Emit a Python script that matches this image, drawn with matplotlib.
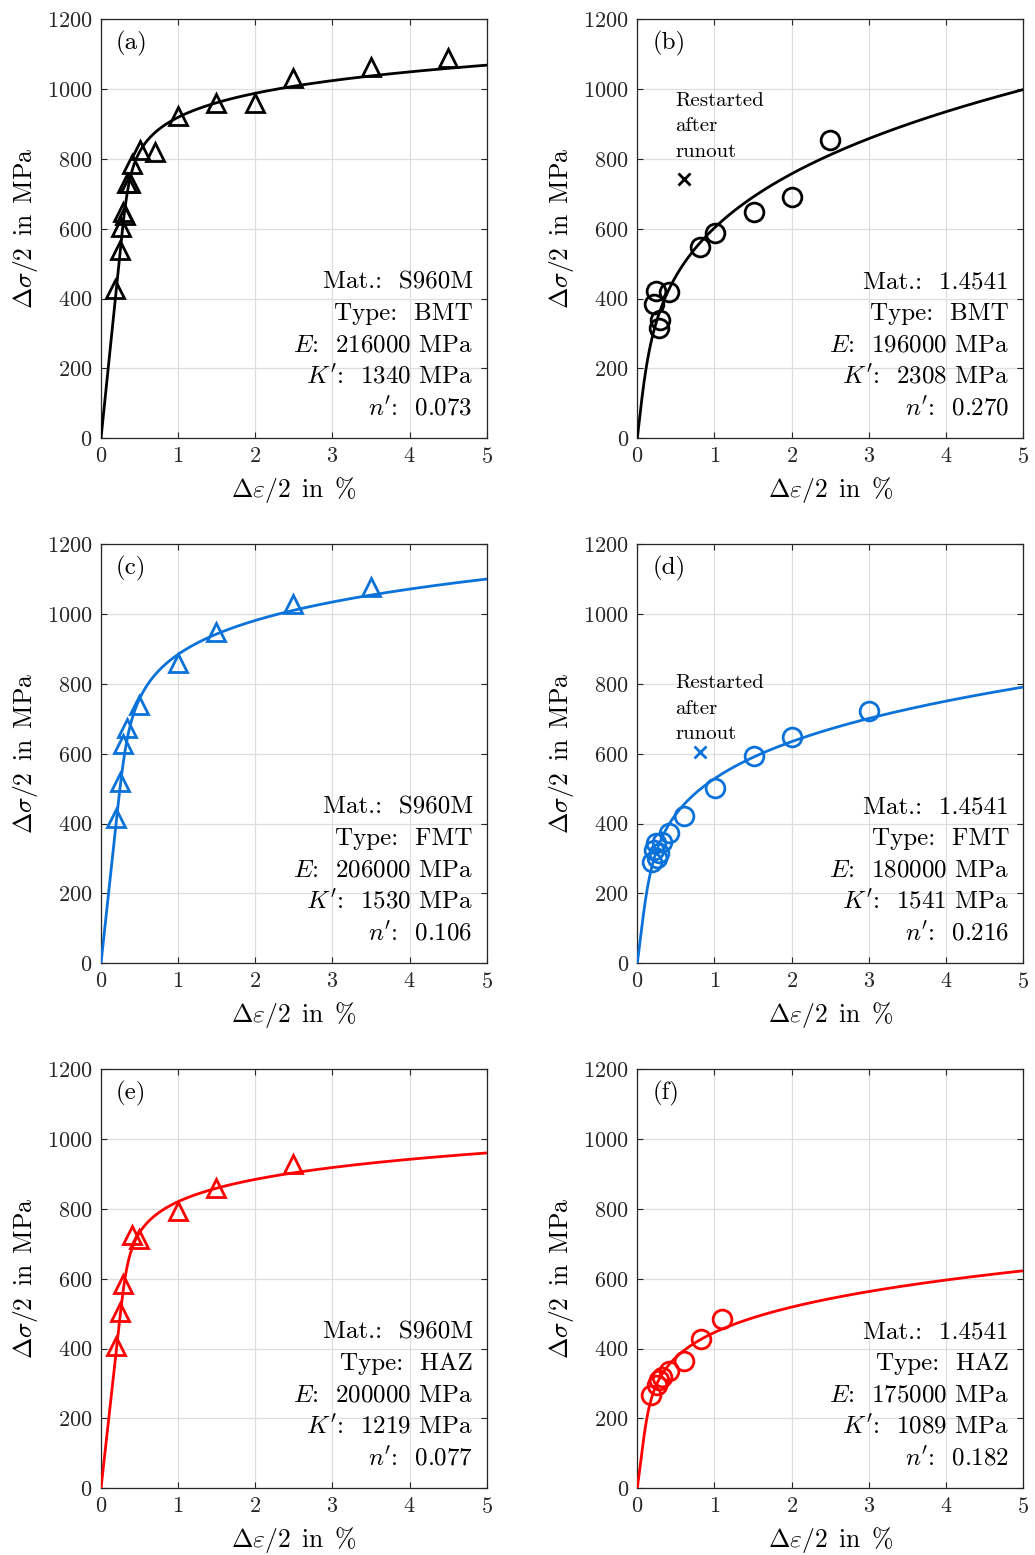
import numpy as np
import matplotlib
matplotlib.use("Agg")
import matplotlib.pyplot as plt

plt.rcParams['font.family'] = 'serif'
plt.rcParams['font.serif'] = ['cmr10']
plt.rcParams['mathtext.fontset'] = 'cm'
plt.rcParams['axes.formatter.use_mathtext'] = True

# ---------------- data ----------------
panel_labels = ['(a)', '(b)', '(c)', '(d)', '(e)', '(f)']
materials = ['S960M', '1.4541', 'S960M', '1.4541', 'S960M', '1.4541']
types = ['BMT', 'BMT', 'FMT', 'FMT', 'HAZ', 'HAZ']
E_mod = [216000, 196000, 206000, 180000, 200000, 175000]
K_prime = [1340, 2308, 1530, 1541, 1219, 1089]
n_prime = [0.073, 0.270, 0.106, 0.216, 0.077, 0.182]
n_prime_txt = ['0.073', '0.270', '0.106', '0.216', '0.077', '0.182']

# (a) S960M BMT
a_eps = [4.50, 3.50, 2.49, 2.00, 1.49, 1.00, 0.70, 0.50, 0.40, 0.37, 0.34, 0.29, 0.31, 0.26, 0.24, 0.18]
a_sig = [1088, 1064, 1031, 961, 961, 923, 821, 825, 785, 730, 732, 649, 639, 606, 538, 429]
# (b) 1.4541 BMT
b_eps = [2.50, 2.01, 1.51, 1.01, 0.81, 0.41, 0.24, 0.22, 0.29, 0.28]
b_sig = [854, 692, 647, 588, 547, 419, 422, 386, 338, 316]
b_runout_eps = [0.60]
b_runout_sig = [742]
# (c) S960M FMT
c_eps = [3.50, 2.49, 1.49, 0.995, 0.49, 0.34, 0.29, 0.24, 0.19]
c_sig = [1078, 1028, 948, 861, 740, 673, 627, 518, 415]
# (d) 1.4541 FMT
d_eps = [3.00, 2.00, 1.51, 1.01, 0.61, 0.41, 0.32, 0.24, 0.22, 0.28, 0.26, 0.19]
d_sig = [723, 647, 594, 501, 422, 373, 348, 345, 324, 315, 301, 291]
d_runout_eps = [0.81]
d_runout_sig = [606]
# (e) S960M HAZ
e_eps = [2.49, 1.49, 0.995, 0.49, 0.40, 0.29, 0.24, 0.19]
e_sig = [929, 860, 793, 715, 725, 584, 506, 407]
# (f) 1.4541 HAZ
f_eps = [1.10, 0.82, 0.61, 0.41, 0.32, 0.28, 0.25, 0.18]
f_sig = [484, 428, 366, 337, 318, 310, 295, 266]

points_eps = [a_eps, b_eps, c_eps, d_eps, e_eps, f_eps]
points_sig = [a_sig, b_sig, c_sig, d_sig, e_sig, f_sig]
runout_eps = [None, b_runout_eps, None, d_runout_eps, None, None]
runout_sig = [None, b_runout_sig, None, d_runout_sig, None, None]

BLUE = '#0A72D8'
RED = '#FF0000'
colors = ['black', 'black', BLUE, BLUE, RED, RED]
markers = ['^', 'o', '^', 'o', '^', 'o']

x_ticks = [0, 1, 2, 3, 4, 5]
y_ticks = [0, 200, 400, 600, 800, 1000, 1200]

# ---------------- figure ----------------
fig = plt.figure(figsize=(10.35, 15.55), dpi=100)

W, H = 1035.0, 1555.0
lefts = [101.0, 637.3]
tops = [19.3, 544.3, 1069.3]
ax_w, ax_h = 385.7, 419.0

TICK_FS = 16
LABEL_FS = 18.5
ANN_FS = 18
RUN_FS = 15

for i in range(6):
    r, c = divmod(i, 2)
    rect = [lefts[c] / W, 1 - (tops[r] + ax_h) / H, ax_w / W, ax_h / H]
    ax = fig.add_axes(rect)
    col = colors[i]

    # Ramberg-Osgood fit curve from the given parameters
    s = np.linspace(0, 1300, 4000)
    eps = 100 * (s / E_mod[i] + (s / K_prime[i]) ** (1.0 / n_prime[i]))
    ax.plot(eps, s, color=col, lw=2.0, zorder=3)

    ms = 13 if markers[i] == '^' else 13.5
    ax.plot(points_eps[i], points_sig[i], linestyle='none', marker=markers[i],
            markersize=ms, markerfacecolor='none', markeredgecolor=col,
            markeredgewidth=2.0, zorder=4)

    if runout_eps[i] is not None:
        ax.plot(runout_eps[i], runout_sig[i], linestyle='none', marker='x',
                markersize=8, markeredgewidth=2.0, color=col, zorder=4)

    ax.set_xlim(0, 5)
    ax.set_ylim(0, 1200)
    ax.set_xticks(x_ticks)
    ax.set_yticks(y_ticks)
    ax.grid(True, color='#dedede', lw=0.9)
    ax.set_axisbelow(True)
    ax.tick_params(direction='in', length=4, width=0.8, top=True, right=True,
                   labelsize=TICK_FS, colors='#262626', pad=6)
    for sp in ax.spines.values():
        sp.set_color('#262626')
        sp.set_linewidth(0.9)

    ax.set_xlabel(r'$\Delta\varepsilon/2\ \,\mathrm{in}\ \,\%$', fontsize=LABEL_FS, labelpad=6)
    ax.set_ylabel(r'$\Delta\sigma/2\ \,\mathrm{in}\ \,\mathrm{MPa}$', fontsize=LABEL_FS, labelpad=5)

    ax.text(0.039, 0.943, panel_labels[i], transform=ax.transAxes,
            fontsize=ANN_FS, ha='left', va='center')

    lines = ['Mat.:  ' + materials[i],
             'Type:  ' + types[i],
             r'$E$:  %d MPa' % E_mod[i],
             r"$K'$:  %d MPa" % K_prime[i],
             r"$n'$:  " + n_prime_txt[i]]
    for j, t in enumerate(lines):
        ax.text(0.964, 0.055 + (4 - j) * 0.0757, t, transform=ax.transAxes,
                fontsize=ANN_FS, ha='right', va='baseline')

    if i == 1:
        base = [0.793, 0.734, 0.672]
    elif i == 3:
        base = [0.656, 0.595, 0.535]
    else:
        base = None
    if base is not None:
        for t, y in zip(['Restarted', 'after', 'runout'], base):
            ax.text(0.099, y, t, transform=ax.transAxes, fontsize=RUN_FS,
                    ha='left', va='baseline')

fig.savefig('out.png', dpi=100)
